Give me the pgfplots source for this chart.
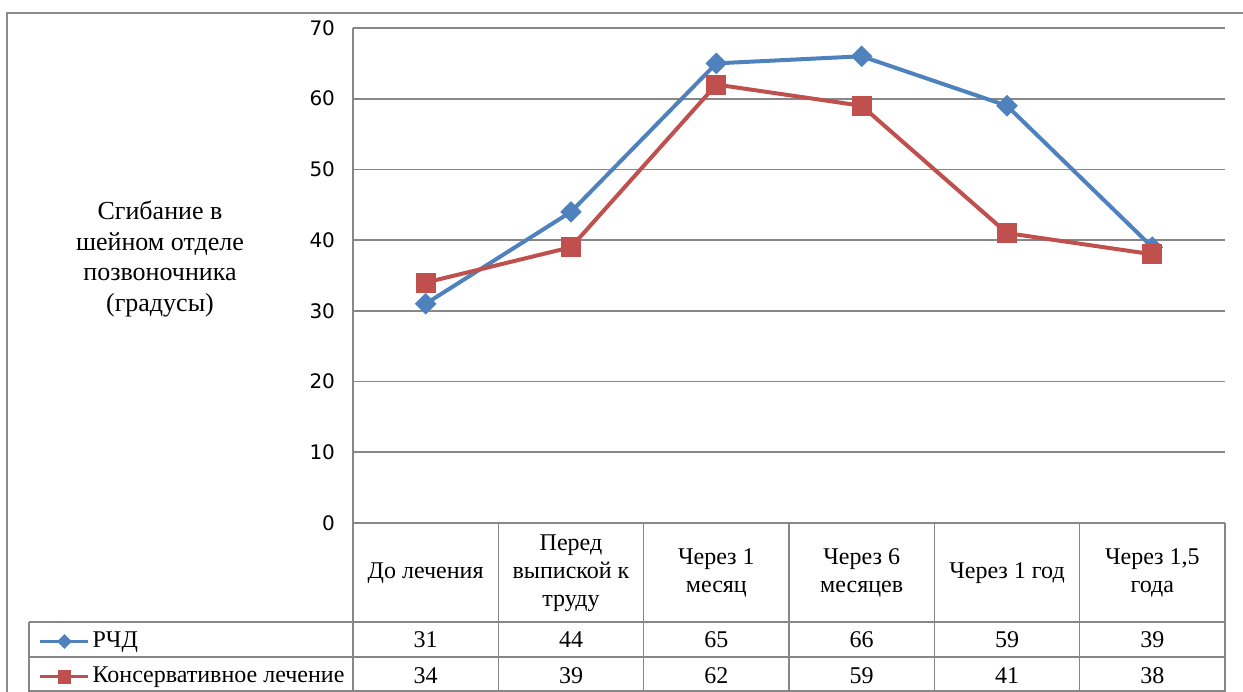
\documentclass[border=0pt]{standalone}
\usepackage{fontspec}
\setmainfont{Liberation Serif}
\newfontfamily\tickfont{DejaVu Sans}
\usepackage{pgfplots}
\pgfplotsset{compat=1.18}

\definecolor{rchd}{HTML}{4F81BD}
\definecolor{kons}{HTML}{C0504D}
\definecolor{gridgray}{HTML}{878787}
\definecolor{framegray}{HTML}{8C8C8C}

\begin{document}
\begin{tikzpicture}[x=0.75pt,y=0.75pt]
\useasboundingbox (0,0) rectangle (1243,692);
% outer frame (only top and left are inside the picture)
\draw[framegray, line width=1.5pt] (7,0) -- (7,679) -- (1243,679);

\begin{axis}[
    at={(264.75pt,126.75pt)}, anchor=south west,
    scale only axis,
    width=654pt, height=371.25pt,
    xmin=-0.5, xmax=5.5,
    ymin=0, ymax=70,
    ytick={0,10,...,70},
    xtick=\empty,
    axis line style={draw=none},
    major tick length=0pt,
    ymajorgrids,
    major grid style={gridgray, line width=1.2pt},
    yticklabel style={font=\tickfont\fontsize{15}{17}\selectfont, xshift=-10pt},
    /pgf/number format/assume math mode=true,
    clip=false,
    legend style={at={(-0.365,-0.214)}, anchor=north west, draw=none, fill=none,
        font=\fontsize{18}{20}\selectfont, row sep=12pt, column sep=2pt,
        nodes={inner sep=0pt, text height=11.5pt, text depth=3pt}},
    legend cell align=left,
    legend image code/.code={\draw[mark repeat=2,mark phase=2,#1]
        plot coordinates {(0pt,0pt) (18pt,0pt) (36pt,0pt)};},
    legend image post style={line width=2.2pt, mark size=4pt},
]
\addplot[rchd, line width=3pt, mark=diamond*, mark size=6pt,
    mark options={solid, xscale=1.33}]
    coordinates {(0,31) (1,44) (2,65) (3,66) (4,59) (5,39)};
\addlegendentry{РЧД}
\addplot[kons, line width=3pt, mark=square*, mark size=6pt, mark options={solid}]
    coordinates {(0,34) (1,39) (2,62) (3,59) (4,41) (5,38)};
\addlegendentry{Консервативное лечение}
\end{axis}

% y axis line running down into the table
\draw[gridgray, line width=1.2pt] (353,664) -- (353,0);
% table lines
\foreach \i in {1,...,6}
    \draw[gridgray, line width=1.2pt] ({353+145.333*\i},169) -- ({353+145.333*\i},0);
\draw[gridgray, line width=1.2pt] (353,169) -- (1225,169);
\draw[gridgray, line width=1.2pt] (29,70) -- (1225,70);
\draw[gridgray, line width=1.2pt] (29,35) -- (1225,35);
\draw[gridgray, line width=1.2pt] (29,1) -- (1225,1);
\draw[gridgray, line width=1.2pt] (29,70) -- (29,0);

% y label
\node[align=center, font=\fontsize{19.5}{23.2}\selectfont] at (160,433)
    {Сгибание в\\шейном отделе\\позвоночника\\(градусы)};

% header row
\begin{scope}[every node/.style={align=center, font=\fontsize{18}{21}\selectfont}]
\node at ({353+145.333*0.5},119) {До лечения};
\node at ({353+145.333*1.5},119) {Перед\\выпиской к\\труду};
\node at ({353+145.333*2.5},119) {Через 1\\месяц};
\node at ({353+145.333*3.5},119) {Через 6\\месяцев};
\node at ({353+145.333*4.5},119) {Через 1 год};
\node at ({353+145.333*5.5},119) {Через 1,5\\года};
\end{scope}

% values
\begin{scope}[every node/.style={font=\fontsize{18}{20}\selectfont}]
\foreach \v [count=\i from 0] in {31,44,65,66,59,39}
    \node at ({353+145.333*(\i+0.5)},52) {\v};
\foreach \v [count=\i from 0] in {34,39,62,59,41,38}
    \node at ({353+145.333*(\i+0.5)},16) {\v};
\end{scope}
\end{tikzpicture}
\end{document}
